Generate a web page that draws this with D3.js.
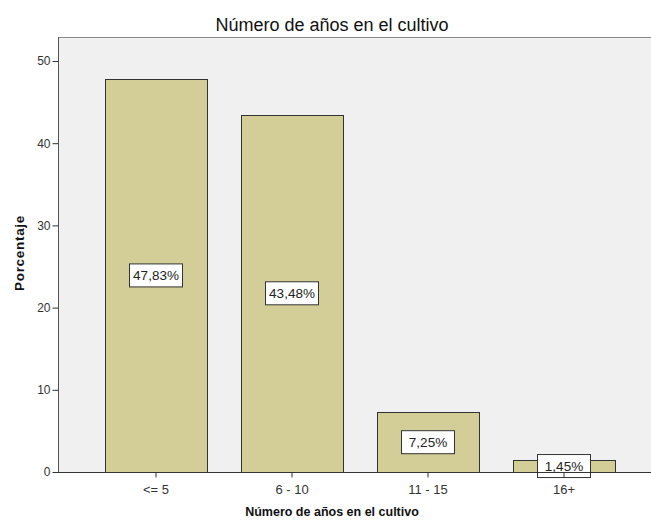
<!DOCTYPE html>
<html><head><meta charset="utf-8">
<script src="https://cdn.jsdelivr.net/npm/d3@7"></script>
<style>body{margin:0;background:#fff}svg{display:block;font-family:"Liberation Sans",Arial,sans-serif}</style>
</head><body>
<svg id="c" width="651" height="523"></svg>
<script>
const categories = ["<= 5", "6 - 10", "11 - 15", "16+"];
const values = [47.83, 43.48, 7.25, 1.45];
const valueLabels = ["47,83%", "43,48%", "7,25%", "1,45%"];
const yTicks = [0, 10, 20, 30, 40, 50];
const title = "Número de años en el cultivo";
const xTitle = "Número de años en el cultivo";
const yTitle = "Porcentaje";

const svg = d3.select("#c");
const frame = {left: 58, top: 37, right: 652, bottom: 472};

const x = d3.scaleBand().domain(categories).range([88, 632]).paddingInner(0.25).paddingOuter(0.125);
const y = d3.scaleLinear().domain([0, 50]).range([472, 61]);

// plot background
svg.append("rect").attr("x", frame.left + 0.5).attr("y", frame.top + 0.5)
  .attr("width", frame.right - frame.left).attr("height", frame.bottom - frame.top)
  .attr("fill", "#f0f0f0").attr("stroke", "#8a8a8a").attr("stroke-width", 1);

// bars
svg.append("g").selectAll("rect").data(values).join("rect")
  .attr("x", (d, i) => Math.round(x(categories[i])) + 0.5)
  .attr("y", d => Math.round(y(d)) + 0.5)
  .attr("width", Math.round(x.bandwidth()))
  .attr("height", d => Math.round(y(0)) - Math.round(y(d)))
  .attr("fill", "#d3ce97").attr("stroke", "#333").attr("stroke-width", 1);

// value labels
const lab = svg.append("g").selectAll("g").data(values).join("g")
  .attr("transform", (d, i) => `translate(${x(categories[i]) + x.bandwidth() / 2},${y(d / 2)})`);
lab.append("rect").attr("x", -26.5).attr("y", -11.5).attr("width", 53).attr("height", 23)
  .attr("fill", "#fff").attr("stroke", "#333").attr("stroke-width", 1);
lab.append("text").text((d, i) => valueLabels[i]).attr("text-anchor", "middle").attr("dy", "0.36em")
  .attr("font-size", 13.5).attr("fill", "#222");

// y axis
const yAxis = svg.append("g").attr("transform", `translate(${frame.left + 0.5},0)`)
  .call(d3.axisLeft(y).tickValues(yTicks).tickSize(6).tickPadding(2));
yAxis.select(".domain").attr("d", `M0,${frame.top}V${frame.bottom}`).attr("stroke", "#555");
yAxis.selectAll(".tick line").attr("stroke", "#333");
yAxis.selectAll("text").attr("font-size", 12).attr("fill", "#333").attr("font-family", "Liberation Sans, Arial, sans-serif");

// x axis
const xAxis = svg.append("g").attr("transform", `translate(0,${frame.bottom + 0.5})`)
  .call(d3.axisBottom(x).tickSize(5).tickPadding(7));
xAxis.select(".domain").attr("d", `M${frame.left},0H${frame.right}`).attr("stroke", "#333");
xAxis.selectAll(".tick line").attr("stroke", "#333");
xAxis.selectAll("text").attr("font-size", 13).attr("fill", "#333").attr("font-family", "Liberation Sans, Arial, sans-serif");

// titles
svg.append("text").text(title).attr("x", 332).attr("y", 31).attr("text-anchor", "middle")
  .attr("font-size", 18).attr("fill", "#111");
svg.append("text").text(xTitle).attr("x", 332).attr("y", 516).attr("text-anchor", "middle")
  .attr("font-size", 12.5).attr("font-weight", "bold").attr("fill", "#111");
svg.append("text").text(yTitle).attr("transform", "translate(24,253) rotate(-90)").attr("text-anchor", "middle")
  .attr("font-size", 13.5).attr("letter-spacing", 0.7).attr("font-weight", "bold").attr("fill", "#111");
</script>
</body></html>
